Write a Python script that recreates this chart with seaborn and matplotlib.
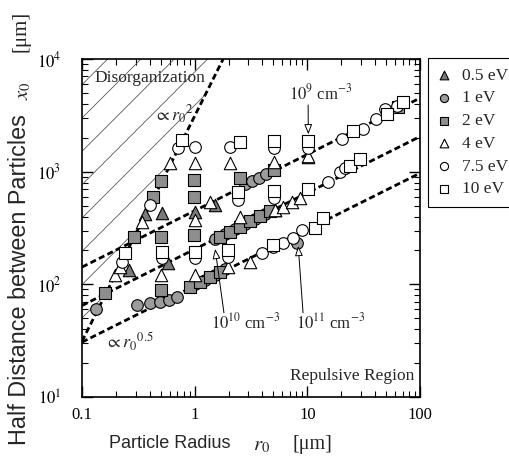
import numpy as np
import pandas as pd
import matplotlib
matplotlib.use("Agg")
import matplotlib.pyplot as plt
import seaborn as sns

# Particle radius r0 [um] and half distance x0 [um] for each electron temperature
r_05 = [0.262, 0.363, 0.514, 0.581, 1.01, 1.52, 5.20, 10.2]
x_05 = [134, 421, 430, 155, 439, 507, 457, 1350]

r_1 = [0.133, 0.308, 0.402, 0.493, 0.593, 0.698,
       1.01, 1.24, 1.52, 1.87,
       1.52, 1.87, 2.29, 2.81, 3.45, 4.24,
       2.81, 3.24, 3.74, 4.33, 8.15]
x_1 = [60.5, 65.6, 68.4, 69.8, 72.8, 77.3,
       99.8, 110, 122, 135.5,
       250, 278, 309, 344, 382, 425,
       778, 826, 879, 944, 233]

r_2 = [0.160, 0.290, 0.428, 0.50, 0.50, 0.50, 0.99, 0.99, 0.99,
       0.912, 1.12, 1.37, 1.69,
       1.69, 2.07, 2.54, 3.11, 3.82, 4.69,
       2.54, 5.09, 64.4]
x_2 = [83.9, 263, 597, 826, 263, 89.2, 844, 597, 274,
       94.9, 105, 116, 129,
       263, 293, 326, 362, 403, 448,
       879, 1035, 3750]

r_4 = [0.196, 0.218, 0.341, 0.50, 0.605, 1.01, 1.01, 1.01, 2.07, 2.54,
       1.99, 3.11, 5.09, 5.20, 6.12, 7.36, 8.55, 10.2, 1.37]
x_4 = [121, 143, 358, 121, 1194, 1194, 372, 121, 1194, 396,
       143, 158, 1219, 457, 486, 539, 585, 1378, 539]

r_75 = [0.227, 0.402, 0.713, 1.01, 2.07, 5.09, 0.514, 1.01, 2.44, 1.99, 5.09,
        10.2, 3.98, 4.99, 6.12, 7.52, 9.03, 15.4, 19.6, 21.8,
        20.5, 31.5, 41.0, 49.3, 63.1]
x_75 = [158, 507, 1622, 1656, 1656, 1622, 171, 171, 561, 175, 585,
        1622, 190, 215, 233, 258, 304, 810, 994, 1079,
        1950, 2392, 2935, 3600, 3828]

r_10 = [0.241, 0.774, 2.54, 5.09, 0.514, 1.01, 2.44, 1.99, 5.09, 4.99,
        10.2, 10.2, 11.8, 13.9, 24.1, 29.6, 25.6, 51.4, 71.3]
x_10 = [190, 1910, 1834, 1873, 194, 194, 661, 202, 674, 224,
        1873, 702, 316, 388, 1124, 1297, 2296, 3251, 4155]

energies = ["0.5 eV", "1 eV", "2 eV", "4 eV", "7.5 eV", "10 eV"]
radii = [r_05, r_1, r_2, r_4, r_75, r_10]
spacing = [x_05, x_1, x_2, x_4, x_75, x_10]

# x0 = C * r0**0.5 for dust densities 1e9, 1e10, 1e11 cm^-3
density_coef = [450, 205, 97]
# disorganization boundary x0 = K * r0**2
disorg_coef = 3120

df = pd.concat(
    [pd.DataFrame({"r0": r, "x0": x, "energy": e})
     for r, x, e in zip(radii, spacing, energies)],
    ignore_index=True,
)

sns.set_theme(style="ticks")
plt.rcParams["font.family"] = ["Liberation Serif", "DejaVu Serif"]
plt.rcParams["mathtext.fontset"] = "stix"
plt.rcParams["hatch.linewidth"] = 0.6

W, H = 509, 463
fig = plt.figure(figsize=(W / 100, H / 100), dpi=100)
ax = fig.add_axes([82 / W, 1 - 397 / H, 338 / W, 338 / H])
ax.set_xscale("log")
ax.set_yscale("log")
ax.set_xlim(0.1, 100)
ax.set_ylim(10, 1e4)

# hatched disorganization region above the r0^2 boundary
r_top = np.sqrt(1e4 / disorg_coef)
r_d = np.logspace(-1, np.log10(r_top), 60)
ax.fill_between(r_d, disorg_coef * r_d ** 2, 1e4, facecolor="none",
                edgecolor="0.35", hatch="/", linewidth=0, zorder=1)
ax.plot(r_d, disorg_coef * r_d ** 2, color="black", lw=2.0,
        ls=(0, (2.2, 1.2)), zorder=2)

r_line = np.logspace(-1, 2, 100)
for c in density_coef:
    ax.plot(r_line, c * np.sqrt(r_line), color="black", lw=2.0,
            ls=(0, (2.2, 1.2)), zorder=2)

styles = {
    "0.5 eV": ("^", "#7a7a7a", 80),
    "1 eV": ("o", "#9c9c9c", 70),
    "2 eV": ("s", "#8e8e8e", 64),
    "4 eV": ("^", "white", 80),
    "7.5 eV": ("o", "white", 70),
    "10 eV": ("s", "white", 64),
}
for e in energies:
    m, fc, s = styles[e]
    sns.scatterplot(data=df[df["energy"] == e], x="r0", y="x0", marker=m,
                    s=s, color=fc, edgecolor="black", linewidth=0.8,
                    ax=ax, label=e, zorder=3)

ax.set_xlabel("")
ax.set_ylabel("")
ax.set_xticks([0.1, 1, 10, 100])
ax.set_xticklabels(["0.1", "1", "10", "100"])
ax.set_yticks([10, 100, 1000, 10000])
ax.set_yticklabels([r"$10^{1}$", r"$10^{2}$", r"$10^{3}$", r"$10^{4}$"])
ax.tick_params(which="both", direction="in", top=True, right=True,
               colors="black", labelsize=12)
ax.tick_params(which="major", length=8, width=1.0)
ax.tick_params(axis="x", which="major", pad=7)
ax.tick_params(axis="y", which="major", pad=15)
ax.tick_params(which="minor", length=4, width=0.8)
for sp in ax.spines.values():
    sp.set_linewidth(1.2)
    sp.set_color("black")

leg = ax.legend(loc="upper left", bbox_to_anchor=(428 / W, 1 - 58 / H),
                bbox_transform=fig.transFigure, frameon=True, fancybox=False,
                framealpha=1, edgecolor="black", fontsize=12.5, borderpad=0.55,
                labelspacing=0.38, handlelength=0.8, handletextpad=0.6,
                borderaxespad=0, markerscale=0.7)
leg.get_frame().set_linewidth(0.8)

# annotations
ax.text(0.038, 0.944, "Disorganization", transform=ax.transAxes,
        fontsize=12.5, ha="left", va="center")
ax.text(0.212, 0.834, r"$\propto r_0{}^{2}$", transform=ax.transAxes,
        fontsize=13, ha="left", va="center")
ax.text(0.068, 0.163, r"$\propto r_0{}^{0.5}$", transform=ax.transAxes,
        fontsize=13, ha="left", va="center")
ax.text(0.982, 0.062, "Repulsive Region", transform=ax.transAxes,
        fontsize=12.5, ha="right", va="center")

arrow = dict(arrowstyle="-|>,head_length=0.5,head_width=0.2",
             color="black", lw=0.7, fc="white", shrinkA=0, shrinkB=0)
ax.text(0.705, 0.899, r"$10^{9}$ cm$^{-3}$", transform=ax.transAxes,
        fontsize=12, ha="center", va="center")
ax.annotate("", xy=(10.2, 2150), xytext=(0.669, 0.864),
            textcoords="axes fraction", arrowprops=arrow)
ax.text(0.485, 0.222, r"$10^{10}$ cm$^{-3}$", transform=ax.transAxes,
        fontsize=12, ha="center", va="center")
ax.annotate("", xy=(1.52, 206), xytext=(0.420, 0.249),
            textcoords="axes fraction", arrowprops=arrow)
ax.text(0.735, 0.222, r"$10^{11}$ cm$^{-3}$", transform=ax.transAxes,
        fontsize=12, ha="center", va="center")
ax.annotate("", xy=(8.3, 219), xytext=(0.654, 0.249),
            textcoords="axes fraction", arrowprops=arrow)

# axis titles
fig.text(109 / W, 1 - 444 / H, "Particle Radius", family="Liberation Sans",
         fontsize=13, ha="left", va="center")
fig.text(262 / W, 1 - 446 / H, r"$r_0$", fontsize=15, ha="center", va="center")
fig.text(293 / W, 1 - 444 / H, "[\u03bcm]", fontsize=14.5, ha="left",
         va="center")

fig.text(20 / W, 18 / H, "Half Distance between Particles",
         family="Liberation Sans", fontsize=16.8, rotation=90,
         ha="center", va="bottom")
fig.text(24 / W, 1 - 91 / H, r"$x_0$", fontsize=15, rotation=90,
         ha="center", va="center")
fig.text(21 / W, 1 - 31 / H, "[\u03bcm]", fontsize=15, rotation=90,
         ha="center", va="center")

fig.savefig("out.png", dpi=100)
